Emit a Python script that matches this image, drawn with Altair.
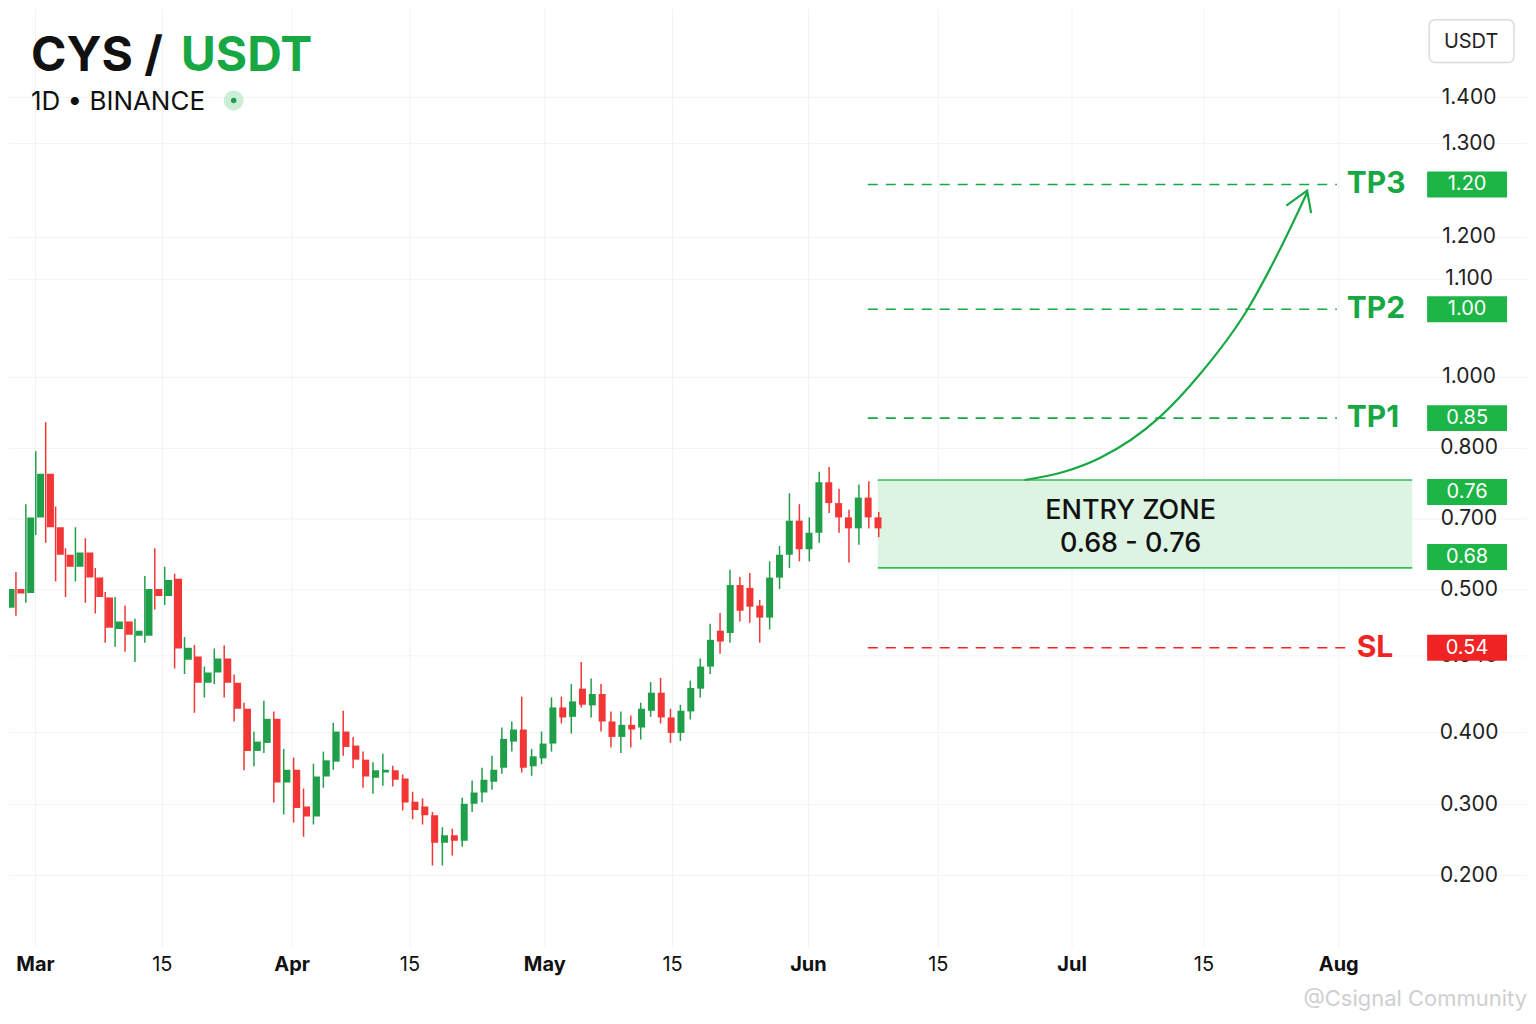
import datetime as dt
import altair as alt
import pandas as pd

# ---------------- data ----------------
opens = [0.610, 0.643, 0.636, 0.726, 0.769, 0.717, 0.692, 0.681, 0.694, 0.663,
         0.628, 0.573, 0.586, 0.561, 0.561, 0.643, 0.631, 0.661, 0.522, 0.527,
         0.488, 0.503, 0.524, 0.488, 0.449, 0.386, 0.398, 0.434, 0.339, 0.358,
         0.303, 0.288, 0.348, 0.370, 0.415, 0.394, 0.373, 0.346, 0.354, 0.357,
         0.345, 0.310, 0.303, 0.290, 0.249, 0.260, 0.252, 0.307, 0.324, 0.340,
         0.361, 0.400, 0.418, 0.363, 0.375, 0.397, 0.451, 0.437, 0.479, 0.454,
         0.471, 0.430, 0.407, 0.425, 0.421, 0.446, 0.473, 0.436, 0.413, 0.445,
         0.479, 0.512, 0.570, 0.566, 0.650, 0.645, 0.614, 0.593, 0.663, 0.692,
         0.723, 0.697, 0.712, 0.758, 0.739, 0.726, 0.716, 0.744, 0.726]
highs = [0.686, 0.673, 0.738, 0.802, 0.844, 0.736, 0.698, 0.717, 0.707, 0.680,
         0.638, 0.629, 0.614, 0.591, 0.666, 0.698, 0.681, 0.670, 0.559, 0.545,
         0.512, 0.539, 0.544, 0.500, 0.458, 0.415, 0.461, 0.445, 0.389, 0.376,
         0.330, 0.367, 0.385, 0.428, 0.446, 0.407, 0.385, 0.369, 0.382, 0.364,
         0.351, 0.325, 0.315, 0.295, 0.272, 0.270, 0.316, 0.342, 0.361, 0.379,
         0.421, 0.430, 0.467, 0.389, 0.415, 0.466, 0.467, 0.486, 0.519, 0.494,
         0.486, 0.445, 0.445, 0.439, 0.458, 0.489, 0.495, 0.449, 0.455, 0.491,
         0.524, 0.582, 0.601, 0.677, 0.664, 0.671, 0.624, 0.686, 0.700, 0.748,
         0.738, 0.726, 0.772, 0.779, 0.752, 0.733, 0.756, 0.759, 0.731]
lows = [0.580, 0.596, 0.619, 0.710, 0.703, 0.656, 0.629, 0.656, 0.619, 0.600,
        0.549, 0.542, 0.534, 0.519, 0.549, 0.607, 0.615, 0.509, 0.501, 0.443,
        0.466, 0.486, 0.466, 0.430, 0.357, 0.363, 0.383, 0.309, 0.291, 0.279,
        0.258, 0.276, 0.331, 0.358, 0.379, 0.360, 0.331, 0.322, 0.334, 0.333,
        0.297, 0.284, 0.276, 0.215, 0.215, 0.230, 0.243, 0.295, 0.309, 0.328,
        0.352, 0.385, 0.354, 0.349, 0.366, 0.385, 0.427, 0.412, 0.451, 0.436,
        0.415, 0.391, 0.383, 0.391, 0.403, 0.437, 0.427, 0.398, 0.401, 0.433,
        0.466, 0.501, 0.531, 0.549, 0.586, 0.584, 0.549, 0.572, 0.643, 0.680,
        0.686, 0.686, 0.703, 0.730, 0.712, 0.685, 0.701, 0.716, 0.708]
closes = [0.643, 0.635, 0.726, 0.769, 0.717, 0.692, 0.681, 0.694, 0.663, 0.629,
          0.575, 0.586, 0.563, 0.570, 0.643, 0.631, 0.659, 0.539, 0.540, 0.488,
          0.503, 0.524, 0.488, 0.449, 0.386, 0.400, 0.434, 0.339, 0.358, 0.301,
          0.288, 0.348, 0.372, 0.415, 0.392, 0.373, 0.348, 0.357, 0.358, 0.343,
          0.309, 0.298, 0.290, 0.249, 0.260, 0.252, 0.307, 0.324, 0.343, 0.358,
          0.404, 0.418, 0.361, 0.378, 0.397, 0.451, 0.436, 0.460, 0.455, 0.471,
          0.430, 0.407, 0.425, 0.418, 0.449, 0.473, 0.436, 0.413, 0.446, 0.480,
          0.512, 0.554, 0.551, 0.650, 0.605, 0.612, 0.593, 0.663, 0.692, 0.723,
          0.697, 0.712, 0.758, 0.739, 0.726, 0.716, 0.744, 0.726, 0.716]

date_ticks = [(2025, 3, 1), (2025, 3, 15), (2025, 4, 1), (2025, 4, 15), (2025, 5, 1),
              (2025, 5, 15), (2025, 6, 1), (2025, 6, 15), (2025, 7, 1), (2025, 7, 15),
              (2025, 8, 1)]

axis_labels = ["1.400", "1.300", "1.200", "1.100", "1.000", "0.800",
               "0.700", "0.500", "0.540", "0.400", "0.300", "0.200"]
axis_label_at = [1.4, 1.294, 1.115, 1.048, 0.906, 0.806,
                 0.7245, 0.6415, 0.528, 0.4133, 0.3059, 0.2]

tp_names = ["TP3", "TP2", "TP1"]
tp_values = [1.20, 1.00, 0.85]
sl_name = "SL"
sl_value = 0.54
entry_low = 0.68
entry_high = 0.76
entry_text = "ENTRY ZONE\n0.68 - 0.76"

badge_labels = ["1.20", "1.00", "0.85", "0.76", "0.68", "0.54"]
badge_values = [1.20, 1.00, 0.85, 0.76, 0.68, 0.54]
badge_kind = ["tp", "tp", "tp", "entry", "entry", "sl"]

arrow_x = [102.7, 106.7, 110.3, 116.3, 120.3, 125.2, 128.4, 131.2]
arrow_y = [0.760, 0.772, 0.792, 0.851, 0.909, 1.000, 1.094, 1.187]
arrowhead_x = [129.1, 131.2, 131.6]
arrowhead_y = [1.166, 1.190, 1.154]

# ---------------- style / layout ----------------
GREEN = "#17a844"
C_GREEN = "#1f9f4a"
RED = "#f02424"
C_RED = "#f23636"
FONT = "Inter"
LINE_START, TP_END, SL_END = 86.9, 134.2, 135.6
TP_LABEL_X, SL_LABEL_X = 135.2, 136.2
ZONE_START, ZONE_END, ZONE_TEXT_X = 87.9, 141.8, 113.4

XS = alt.Scale(domain=[0.3, 153.37], nice=False, zero=False)
YS = alt.Scale(domain=[0.2, 0.54, 0.68, 0.76, 0.85, 1.0, 1.2, 1.4],
               range=[868, 640, 560, 472, 410, 301, 176, 89], nice=False, zero=False)

# date axis: days since the first tick, on a piecewise scale (the reference spaces
# its half-month labels evenly)
base = dt.date(*date_ticks[0])
tick_days = [(dt.date(*t) - base).days for t in date_ticks]
tick_text = [dt.date(*t).strftime("%b") if t[2] == 1 else str(t[2]) for t in date_ticks]
month_days = [d for d, t in zip(tick_days, date_ticks) if t[2] == 1]
DATE_RANGE = [26, 153, 283, 401, 536, 664, 800, 930, 1064, 1196, 1331]
label_expr = ("[" + ",".join("'%s'" % s for s in tick_text) + "][indexof(["
              + ",".join(str(d) for d in tick_days) + "], datum.value)]")
bold_test = "indexof([" + ",".join(str(d) for d in month_days) + "], datum.value) >= 0"

cdf = pd.DataFrame({"idx": list(range(len(opens))), "open": opens, "high": highs,
                    "low": lows, "close": closes})
up = alt.condition("datum.close >= datum.open", alt.value(C_GREEN), alt.value(C_RED))

X = lambda f: alt.X(f, type="quantitative", scale=XS, axis=None)
Y = lambda f: alt.Y(f, type="quantitative", scale=YS, axis=None)

# horizontal faint grid
grid_df = pd.DataFrame({"label": axis_labels, "at": axis_label_at})
hgrid = alt.Chart(grid_df).mark_rule(color="#f3f3f3", strokeWidth=1).encode(y=Y("at"))

# date axis (independent x)
date_axis = alt.Chart(pd.DataFrame({"day": tick_days, "text": tick_text})).mark_point(opacity=0).encode(
    x=alt.X("day:Q",
            scale=alt.Scale(domain=tick_days, range=DATE_RANGE, nice=False, zero=False),
            axis=alt.Axis(orient="bottom", title=None, domain=False, ticks=False, grid=True,
                          gridColor="#f2f2f2", gridWidth=1,
                          values=tick_days,
                          labelExpr=label_expr,
                          labelFontWeight={"condition": {"test": bold_test, "value": "bold"},
                                           "value": "normal"},
                          labelFont=FONT, labelFontSize=20, labelColor="#111111",
                          labelPadding=7, labelOverlap=False, labelFlush=False))
)

# entry zone
zone_df = pd.DataFrame({"x0": [ZONE_START], "x1": [ZONE_END], "lo": [entry_low], "hi": [entry_high],
                        "text": [entry_text], "xt": [ZONE_TEXT_X], "mid": [(entry_low + entry_high) / 2]})
zone = alt.Chart(zone_df).mark_rect(color="#dcf4e1").encode(x=X("x0"), x2="x1", y=Y("lo"), y2="hi")
zone_edges_df = pd.DataFrame({"x0": [ZONE_START] * 2, "x1": [ZONE_END] * 2, "v": [entry_low, entry_high]})
zone_edges = alt.Chart(zone_edges_df).mark_rule(color="#33bd58", strokeWidth=1.6).encode(
    x=X("x0"), x2="x1", y=Y("v"))
zone_text = alt.Chart(zone_df).mark_text(font=FONT, fontSize=27, fontWeight=500, color="#111111",
                                         lineBreak="\n", lineHeight=33, align="center",
                                         baseline="middle", dy=-13).encode(
    x=X("xt"), y=Y("mid"), text="text:N")

# TP / SL lines
tp_df = pd.DataFrame({"name": tp_names, "value": tp_values, "x0": LINE_START, "x1": TP_END,
                      "xl": TP_LABEL_X})
tp_lines = alt.Chart(tp_df).mark_rule(color=GREEN, strokeWidth=1.6, strokeDash=[10, 8]).encode(
    x=X("x0"), x2="x1", y=Y("value"))
tp_text = alt.Chart(tp_df).mark_text(font=FONT, fontSize=30, fontWeight="bold", color=GREEN,
                                     align="left", baseline="middle").encode(
    x=X("xl"), y=Y("value"), text="name:N")
sl_df = pd.DataFrame({"name": [sl_name], "value": [sl_value], "x0": [LINE_START], "x1": [SL_END],
                      "xl": [SL_LABEL_X]})
sl_line = alt.Chart(sl_df).mark_rule(color=RED, strokeWidth=1.6, strokeDash=[10, 8]).encode(
    x=X("x0"), x2="x1", y=Y("value"))
sl_text = alt.Chart(sl_df).mark_text(font=FONT, fontSize=30, fontWeight="bold", color=RED,
                                     align="left", baseline="middle").encode(
    x=X("xl"), y=Y("value"), text="name:N")

# arrow
arrow_df = pd.DataFrame({"x": arrow_x, "y": arrow_y, "o": list(range(len(arrow_x)))})
arrow = alt.Chart(arrow_df).mark_line(color=GREEN, strokeWidth=2.2, interpolate="monotone").encode(
    x=X("x"), y=Y("y"), order="o:Q")
head_df = pd.DataFrame({"x": arrowhead_x, "y": arrowhead_y, "o": [0, 1, 2]})
head = alt.Chart(head_df).mark_line(color=GREEN, strokeWidth=2.2).encode(
    x=X("x"), y=Y("y"), order="o:Q")

# candles
wicks = alt.Chart(cdf).mark_rule(strokeWidth=1.5, clip=True).encode(
    x=X("idx"), y=Y("low"), y2="high", color=up)
bodies = alt.Chart(cdf).mark_bar(size=7, clip=True).encode(
    x=X("idx"), y=Y("open"), y2="close", color=up)

# right-side price labels
right_labels = alt.Chart(grid_df).mark_text(font=FONT, fontSize=21, color="#222222",
                                            align="center", baseline="middle").encode(
    x=alt.value(1462), y=Y("at"), text="label:N")

badge_layers = []
for lab, val, kind in zip(badge_labels, badge_values, badge_kind):
    shift = 0
    if kind == "entry":
        shift = 12 if val == entry_high else -11
    col = RED if kind == "sl" else "#1db546"
    bdf = pd.DataFrame({"label": [lab], "value": [val]})
    badge_layers.append(alt.Chart(bdf).mark_rule(color=col, strokeWidth=26, yOffset=shift).encode(
        x=alt.value(1420), x2=alt.value(1500), y=Y("value")))
    badge_layers.append(alt.Chart(bdf).mark_text(font=FONT, fontSize=20, color="white",
                                                 align="center", baseline="middle",
                                                 yOffset=shift).encode(
        x=alt.value(1460), y=Y("value"), text="label:N"))

# currency box
box_df = pd.DataFrame({"t": ["USDT"]})
box = alt.Chart(box_df).mark_rect(fill="white", stroke="#dcdcdc", strokeWidth=1.5, cornerRadius=6).encode(
    x=alt.value(1422), x2=alt.value(1507), y=alt.value(11), y2=alt.value(54))
box_text = alt.Chart(box_df).mark_text(font=FONT, fontSize=20, color="#222222", align="center",
                                       baseline="middle").encode(
    x=alt.value(1464), y=alt.value(33), text="t:N")

# title block
t_df = pd.DataFrame({"a": ["CYS /"], "b": ["USDT"], "s": ["1D \u2022 BINANCE"],
                     "w": ["@Csignal Community"]})
title_a = alt.Chart(t_df).mark_text(font=FONT, fontSize=48, fontWeight="bold", color="#111111",
                                    align="left", baseline="alphabetic").encode(
    x=alt.value(22), y=alt.value(62), text="a:N")
title_b = alt.Chart(t_df).mark_text(font=FONT, fontSize=48, fontWeight="bold", color=GREEN,
                                    align="left", baseline="alphabetic").encode(
    x=alt.value(172), y=alt.value(62), text="b:N")
subtitle = alt.Chart(t_df).mark_text(font=FONT, fontSize=26, color="#111111", align="left",
                                     baseline="alphabetic").encode(
    x=alt.value(22), y=alt.value(101), text="s:N")
dot_outer = alt.Chart(t_df).mark_point(filled=True, color="#cdeed6", size=400, opacity=1).encode(
    x=alt.value(225), y=alt.value(92))
dot_inner = alt.Chart(t_df).mark_point(filled=True, color=C_GREEN, size=30, opacity=1).encode(
    x=alt.value(225), y=alt.value(92))
watermark = alt.Chart(t_df).mark_text(font=FONT, fontSize=22, color="#cfcfcf", align="right",
                                      baseline="middle").encode(
    x=alt.value(1520), y=alt.value(992), text="w:N")

chart = alt.layer(
    hgrid, date_axis, zone, zone_edges, tp_lines, sl_line, arrow, head,
    wicks, bodies, zone_text, tp_text, sl_text, right_labels, *badge_layers,
    box, box_text, title_a, title_b, subtitle, dot_outer, dot_inner, watermark
).resolve_scale(x="independent").properties(
    width=1520, height=940, padding=0, background="white"
).configure_view(stroke=None)

chart.save("out.html", embed_options={"renderer": "svg", "actions": False})
